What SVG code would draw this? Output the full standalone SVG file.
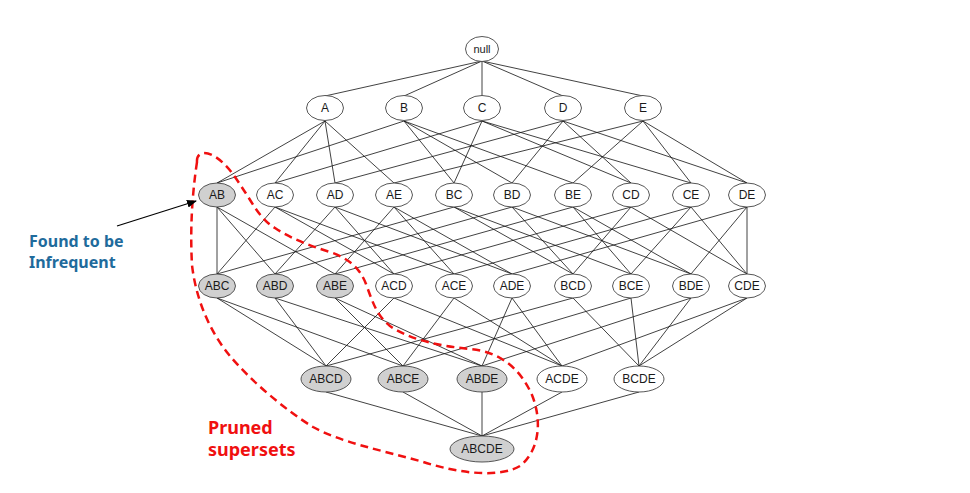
<svg xmlns="http://www.w3.org/2000/svg" width="970" height="493" viewBox="0 0 970 493">
<style>
.n ellipse{fill:#fff;stroke:#444;stroke-width:0.9}
.n.p ellipse{fill:#d0d0d0}
.n text{font-family:"Liberation Sans",Arial,sans-serif;font-size:12px;fill:#1a1a1a;text-anchor:middle}
.e{stroke:#111;stroke-width:0.8;fill:none}
</style>
<defs>
<marker id="ah" markerWidth="10" markerHeight="8" refX="9" refY="4" orient="auto" markerUnits="userSpaceOnUse">
<path d="M0,0 L10,4 L0,8 Z" fill="#000"/>
</marker>
</defs>
<rect width="970" height="493" fill="#fff"/>
<g id="connectors">
<path class="e" d="M482,61L325,96M482,61L404,96M482,61L482,96M482,61L563,96M482,61L643,96"/>
<path class="e" d="M325,121L217,183M325,121L275,183M325,121L335,183M325,121L394,183
M404,121L217,183M404,121L454,183M404,121L512,183M404,121L573,183
M482,121L275,183M482,121L454,183M482,121L631,183M482,121L691,183
M563,121L335,183M563,121L512,183M563,121L631,183M563,121L747,183
M643,121L394,183M643,121L573,183M643,121L691,183M643,121L747,183"/>
<path class="e" d="M217,274L217,207M217,274L275,207M217,274L454,207
M275,274L217,207M275,274L335,207M275,274L512,207
M335,274L217,207M335,274L394,207M335,274L573,207
M394,274L275,207M394,274L335,207M394,274L631,207
M454,274L275,207M454,274L394,207M454,274L691,207
M512,274L335,207M512,274L394,207M512,274L747,207
M573,274L454,207M573,274L512,207M573,274L631,207
M631,274L454,207M631,274L573,207M631,274L691,207
M691,274L512,207M691,274L573,207M691,274L747,207
M747,274L631,207M747,274L691,207M747,274L747,207"/>
<path class="e" d="M326,366L217,298M326,366L275,298M326,366L394,298M326,366L573,298
M403,366L217,298M403,366L335,298M403,366L454,298M403,366L631,298
M482,366L275,298M482,366L335,298M482,366L512,298M482,366L691,298
M562,366L394,298M562,366L454,298M562,366L512,298M562,366L747,298
M639,366L573,298M639,366L631,298M639,366L691,298M639,366L747,298"/>
<path class="e" d="M482,436L326,392M482,436L403,392M482,436L482,392M482,436L562,392M482,436L639,392"/>
</g>
<g id="n-null" class="n"><ellipse cx="482" cy="49" rx="16.5" ry="12.5"/><text x="482" y="53" style="font-size:11px">null</text></g>
<g id="n-A" class="n"><ellipse cx="325" cy="108" rx="18.5" ry="12.5"/><text x="325" y="112">A</text></g>
<g id="n-B" class="n"><ellipse cx="404" cy="108" rx="18.5" ry="12.5"/><text x="404" y="112">B</text></g>
<g id="n-C" class="n"><ellipse cx="482" cy="108" rx="18.5" ry="12.5"/><text x="482" y="112">C</text></g>
<g id="n-D" class="n"><ellipse cx="563" cy="108" rx="18.5" ry="12.5"/><text x="563" y="112">D</text></g>
<g id="n-E" class="n"><ellipse cx="643" cy="108" rx="18.5" ry="12.5"/><text x="643" y="112">E</text></g>
<g id="n-AB" class="n p"><ellipse cx="217" cy="195" rx="18.5" ry="12"/><text x="217" y="199">AB</text></g>
<g id="n-AC" class="n"><ellipse cx="275" cy="195" rx="18.5" ry="12"/><text x="275" y="199">AC</text></g>
<g id="n-AD" class="n"><ellipse cx="335" cy="195" rx="18.5" ry="12"/><text x="335" y="199">AD</text></g>
<g id="n-AE" class="n"><ellipse cx="394" cy="195" rx="18.5" ry="12"/><text x="394" y="199">AE</text></g>
<g id="n-BC" class="n"><ellipse cx="454" cy="195" rx="18.5" ry="12"/><text x="454" y="199">BC</text></g>
<g id="n-BD" class="n"><ellipse cx="512" cy="195" rx="18.5" ry="12"/><text x="512" y="199">BD</text></g>
<g id="n-BE" class="n"><ellipse cx="573" cy="195" rx="18.5" ry="12"/><text x="573" y="199">BE</text></g>
<g id="n-CD" class="n"><ellipse cx="631" cy="195" rx="18.5" ry="12"/><text x="631" y="199">CD</text></g>
<g id="n-CE" class="n"><ellipse cx="691" cy="195" rx="18.5" ry="12"/><text x="691" y="199">CE</text></g>
<g id="n-DE" class="n"><ellipse cx="747" cy="195" rx="18.5" ry="12"/><text x="747" y="199">DE</text></g>
<g id="n-ABC" class="n p"><ellipse cx="217" cy="286" rx="18.5" ry="12"/><text x="217" y="290">ABC</text></g>
<g id="n-ABD" class="n p"><ellipse cx="275" cy="286" rx="18.5" ry="12"/><text x="275" y="290">ABD</text></g>
<g id="n-ABE" class="n p"><ellipse cx="335" cy="286" rx="18.5" ry="12"/><text x="335" y="290">ABE</text></g>
<g id="n-ACD" class="n"><ellipse cx="394" cy="286" rx="18.5" ry="12"/><text x="394" y="290">ACD</text></g>
<g id="n-ACE" class="n"><ellipse cx="454" cy="286" rx="18.5" ry="12"/><text x="454" y="290">ACE</text></g>
<g id="n-ADE" class="n"><ellipse cx="512" cy="286" rx="18.5" ry="12"/><text x="512" y="290">ADE</text></g>
<g id="n-BCD" class="n"><ellipse cx="573" cy="286" rx="18.5" ry="12"/><text x="573" y="290">BCD</text></g>
<g id="n-BCE" class="n"><ellipse cx="631" cy="286" rx="18.5" ry="12"/><text x="631" y="290">BCE</text></g>
<g id="n-BDE" class="n"><ellipse cx="691" cy="286" rx="18.5" ry="12"/><text x="691" y="290">BDE</text></g>
<g id="n-CDE" class="n"><ellipse cx="747" cy="286" rx="18.5" ry="12"/><text x="747" y="290">CDE</text></g>
<g id="n-ABCD" class="n p"><ellipse cx="326" cy="379" rx="25" ry="13"/><text x="326" y="383">ABCD</text></g>
<g id="n-ABCE" class="n p"><ellipse cx="403" cy="379" rx="25" ry="13"/><text x="403" y="383">ABCE</text></g>
<g id="n-ABDE" class="n p"><ellipse cx="482" cy="379" rx="25" ry="13"/><text x="482" y="383">ABDE</text></g>
<g id="n-ACDE" class="n"><ellipse cx="562" cy="379" rx="25" ry="13"/><text x="562" y="383">ACDE</text></g>
<g id="n-BCDE" class="n"><ellipse cx="639" cy="379" rx="25" ry="13"/><text x="639" y="383">BCDE</text></g>
<g id="n-ABCDE" class="n p"><ellipse cx="482" cy="449" rx="32" ry="13"/><text x="482" y="453">ABCDE</text></g>
<g id="pruned-region">
<path d="M197,162 C196,150 210,150 223,163 C233,172 240,185 247,195 C255,208 262,220 275,228 C290,238 310,246 330,252 C348,258 360,268 366,284 C372,300 376,315 390,326 C410,340 440,346 470,349 C500,352 520,368 532,395 C542,420 540,450 520,466 C500,478 460,474 420,461 C380,450 340,442 313,427 C285,410 250,380 230,356 C210,332 196,300 192,265 C190,230 192,195 197,162 Z" fill="none" stroke="#f01010" stroke-width="2.5" stroke-dasharray="8,5"/>
</g>
<g id="annotation-infrequent">
<line x1="117" y1="226" x2="196" y2="201" stroke="#000" stroke-width="1.2" marker-end="url(#ah)"/>
<text font-family="'Noto Sans','Open Sans',sans-serif" font-weight="bold" font-size="16" fill="#1f6b9c"><tspan x="29" y="247">Found to be</tspan><tspan x="29" y="268">Infrequent</tspan></text>
</g>
<g id="annotation-pruned">
<text font-family="'Noto Sans','Open Sans',sans-serif" font-weight="bold" font-size="18" fill="#f01010"><tspan x="208" y="434">Pruned</tspan><tspan x="208" y="456">supersets</tspan></text>
</g>
</svg>
